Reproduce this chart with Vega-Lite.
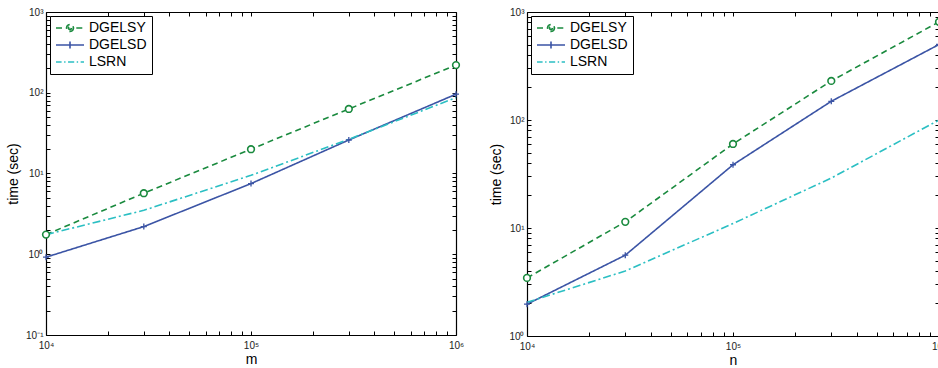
{
  "$schema": "https://vega.github.io/schema/vega-lite/v6.json",
  "padding": {"left": 6, "top": 7, "right": 0, "bottom": 0},
  "background": "white",
  "datasets": {
    "times": [
      {"panel": "m", "series": "DGELSY", "x": 10000, "time": 1.75},
      {"panel": "m", "series": "DGELSY", "x": 30000, "time": 5.7},
      {"panel": "m", "series": "DGELSY", "x": 100000, "time": 20},
      {"panel": "m", "series": "DGELSY", "x": 300000, "time": 63},
      {"panel": "m", "series": "DGELSY", "x": 1000000, "time": 220},
      {"panel": "m", "series": "DGELSD", "x": 10000, "time": 0.92},
      {"panel": "m", "series": "DGELSD", "x": 30000, "time": 2.2},
      {"panel": "m", "series": "DGELSD", "x": 100000, "time": 7.5},
      {"panel": "m", "series": "DGELSD", "x": 300000, "time": 26},
      {"panel": "m", "series": "DGELSD", "x": 1000000, "time": 96},
      {"panel": "m", "series": "LSRN", "x": 10000, "time": 1.75},
      {"panel": "m", "series": "LSRN", "x": 30000, "time": 3.5},
      {"panel": "m", "series": "LSRN", "x": 100000, "time": 9.5},
      {"panel": "m", "series": "LSRN", "x": 300000, "time": 26.5},
      {"panel": "m", "series": "LSRN", "x": 1000000, "time": 87},
      {"panel": "n", "series": "DGELSY", "x": 10000, "time": 3.45},
      {"panel": "n", "series": "DGELSY", "x": 30000, "time": 11.4},
      {"panel": "n", "series": "DGELSY", "x": 100000, "time": 60},
      {"panel": "n", "series": "DGELSY", "x": 300000, "time": 230},
      {"panel": "n", "series": "DGELSY", "x": 1000000, "time": 810},
      {"panel": "n", "series": "DGELSD", "x": 10000, "time": 1.97},
      {"panel": "n", "series": "DGELSD", "x": 30000, "time": 5.6},
      {"panel": "n", "series": "DGELSD", "x": 100000, "time": 38.5},
      {"panel": "n", "series": "DGELSD", "x": 300000, "time": 149},
      {"panel": "n", "series": "DGELSD", "x": 1000000, "time": 500},
      {"panel": "n", "series": "LSRN", "x": 10000, "time": 2.05},
      {"panel": "n", "series": "LSRN", "x": 30000, "time": 4.0},
      {"panel": "n", "series": "LSRN", "x": 100000, "time": 11},
      {"panel": "n", "series": "LSRN", "x": 300000, "time": 29},
      {"panel": "n", "series": "LSRN", "x": 1000000, "time": 100}
    ]
  },
  "data": {"name": "times"},
  "config": {
    "view": {"stroke": null},
    "font": "Liberation Sans",
    "axis": {
      "grid": false,
      "domainColor": "black",
      "domainWidth": 1.2,
      "tickColor": "black",
      "tickWidth": 1,
      "tickSize": -4,
      "labelFont": "Liberation Sans",
      "labelFontSize": 10,
      "labelColor": "#222222",
      "labelFlush": false,
      "labelOverlap": false,
      "titleFont": "Liberation Sans",
      "titleFontSize": 14,
      "titleFontWeight": "normal",
      "titleColor": "black"
    }
  },
  "spacing": 25,
  "resolve": {"scale": {"x": "independent", "y": "independent", "color": "independent", "shape": "independent", "strokeDash": "independent"}, "legend": {"color": "independent", "shape": "independent"}},
  "hconcat": [
    {
      "width": 410,
      "height": 323,
      "transform": [{"filter": "datum.panel == 'm'"}],
      "resolve": {"axis": {"x": "independent", "y": "independent"}},
      "layer": [
        {
          "mark": {"type": "point", "filled": false, "strokeWidth": 1.5, "opacity": 0},
          "encoding": {
            "x": {"field": "x", "type": "quantitative",
              "scale": {"type": "log", "domain": [10000, 1000000]},
              "axis": {"orient": "top", "labels": false, "title": null,
                "values": [10000,20000,30000,40000,50000,60000,70000,80000,90000,100000,200000,300000,400000,500000,600000,700000,800000,900000,1000000]}},
            "y": {"field": "time", "type": "quantitative",
              "scale": {"type": "log", "domain": [0.1, 1000]},
              "axis": {"orient": "right", "labels": false, "title": null,
                "values": [0.1,0.2,0.3,0.4,0.5,0.6,0.7,0.8,0.9,1,2,3,4,5,6,7,8,9,10,20,30,40,50,60,70,80,90,100,200,300,400,500,600,700,800,900,1000]}},
            "color": {"field": "series", "type": "nominal",
              "scale": {"domain": ["DGELSY", "DGELSD", "LSRN"], "range": ["#1a8a3e", "#3b54a5", "#2bbfc3"]},
              "legend": {"title": null, "orient": "top-left", "offset": 4, "padding": 5, "strokeColor": "black", "fillColor": "white", "labelFont": "Liberation Sans", "labelFontSize": 14, "labelColor": "black", "symbolSize": 784, "clipHeight": 14, "rowPadding": 3, "labelOffset": 4, "symbolStrokeWidth": 1.6, "symbolOpacity": 1}},
            "shape": {"field": "series", "type": "nominal",
              "scale": {"domain": ["DGELSY", "DGELSD", "LSRN"], "range": [
                "M-1,0H-0.45M0.45,0H1M0.25,0L0.2165,0.125L0.125,0.2165L0,0.25L-0.125,0.2165L-0.2165,0.125L-0.25,0L-0.2165,-0.125L-0.125,-0.2165L0,-0.25L0.125,-0.2165L0.2165,-0.125ZM0.11,0L0.078,0.078L0,0.11L-0.078,0.078L-0.11,0L-0.078,-0.078L0,-0.11L0.078,-0.078Z",
                "M-1,0H1M0,-0.25V0.25",
                "M-1,0H-0.6M-0.42,0H-0.32M-0.14,0H0.3M0.48,0H0.58M0.76,0H1"]},
              "legend": {"title": null, "orient": "top-left", "offset": 4, "padding": 5, "strokeColor": "black", "fillColor": "white", "labelFont": "Liberation Sans", "labelFontSize": 14, "labelColor": "black", "symbolSize": 784, "clipHeight": 14, "rowPadding": 3, "labelOffset": 4, "symbolStrokeWidth": 1.6, "symbolOpacity": 1}}
          }
        },
        {
          "mark": {"type": "line", "strokeWidth": 1.6},
          "encoding": {
            "x": {"field": "x", "type": "quantitative", "title": "m",
              "scale": {"type": "log", "domain": [10000, 1000000]},
              "axis": {"orient": "bottom", "titlePadding": 2, "labelPadding": 9,
                "values": [10000,20000,30000,40000,50000,60000,70000,80000,90000,100000,200000,300000,400000,500000,600000,700000,800000,900000,1000000],
                "labelExpr": "datum.value == 10000 ? '10⁴' : datum.value == 100000 ? '10⁵' : datum.value == 1000000 ? '10⁶' : ''"}},
            "y": {"field": "time", "type": "quantitative", "title": "time (sec)",
              "scale": {"type": "log", "domain": [0.1, 1000]},
              "axis": {"orient": "left", "titlePadding": 5, "labelPadding": 7,
                "values": [0.1,0.2,0.3,0.4,0.5,0.6,0.7,0.8,0.9,1,2,3,4,5,6,7,8,9,10,20,30,40,50,60,70,80,90,100,200,300,400,500,600,700,800,900,1000],
                "labelExpr": "datum.value == 0.1 ? '10⁻¹' : datum.value == 1 ? '10⁰' : datum.value == 10 ? '10¹' : datum.value == 100 ? '10²' : datum.value == 1000 ? '10³' : ''"}},
            "color": {"field": "series", "type": "nominal", "legend": null,
              "scale": {"domain": ["DGELSY", "DGELSD", "LSRN"], "range": ["#1a8a3e", "#3b54a5", "#2bbfc3"]}},
            "strokeDash": {"field": "series", "type": "nominal", "legend": null,
              "scale": {"domain": ["DGELSY", "DGELSD", "LSRN"], "range": [[6, 4], [1, 0], [8, 3, 2, 3]]}}
          }
        },
        {
          "transform": [{"filter": "datum.series == 'DGELSY'"}],
          "mark": {"type": "point", "shape": "circle", "size": 45, "stroke": "#1a8a3e", "fill": "white", "filled": true, "strokeWidth": 1.6, "opacity": 1},
          "encoding": {
            "x": {"field": "x", "type": "quantitative", "axis": null},
            "y": {"field": "time", "type": "quantitative", "axis": null}
          }
        },
        {
          "transform": [{"filter": "datum.series == 'DGELSD'"}],
          "mark": {"type": "point", "shape": "M-1,0H1M0,-1V1", "size": 36, "stroke": "#3b54a5", "filled": false, "strokeWidth": 1.3, "opacity": 1},
          "encoding": {
            "x": {"field": "x", "type": "quantitative", "axis": null},
            "y": {"field": "time", "type": "quantitative", "axis": null}
          }
        }
      ]
    },
    {
      "width": 412,
      "height": 324,
      "transform": [{"filter": "datum.panel == 'n'"}],
      "resolve": {"axis": {"x": "independent", "y": "independent"}},
      "layer": [
        {
          "mark": {"type": "point", "filled": false, "strokeWidth": 1.5, "opacity": 0},
          "encoding": {
            "x": {"field": "x", "type": "quantitative",
              "scale": {"type": "log", "domain": [10000, 1000000]},
              "axis": {"orient": "top", "labels": false, "title": null,
                "values": [10000,20000,30000,40000,50000,60000,70000,80000,90000,100000,200000,300000,400000,500000,600000,700000,800000,900000,1000000]}},
            "y": {"field": "time", "type": "quantitative",
              "scale": {"type": "log", "domain": [1, 1000]},
              "axis": {"orient": "right", "labels": false, "title": null,
                "values": [1,2,3,4,5,6,7,8,9,10,20,30,40,50,60,70,80,90,100,200,300,400,500,600,700,800,900,1000]}},
            "color": {"field": "series", "type": "nominal",
              "scale": {"domain": ["DGELSY", "DGELSD", "LSRN"], "range": ["#1a8a3e", "#3b54a5", "#2bbfc3"]},
              "legend": {"title": null, "orient": "top-left", "offset": 4, "padding": 5, "strokeColor": "black", "fillColor": "white", "labelFont": "Liberation Sans", "labelFontSize": 14, "labelColor": "black", "symbolSize": 784, "clipHeight": 14, "rowPadding": 3, "labelOffset": 4, "symbolStrokeWidth": 1.6, "symbolOpacity": 1}},
            "shape": {"field": "series", "type": "nominal",
              "scale": {"domain": ["DGELSY", "DGELSD", "LSRN"], "range": [
                "M-1,0H-0.45M0.45,0H1M0.25,0L0.2165,0.125L0.125,0.2165L0,0.25L-0.125,0.2165L-0.2165,0.125L-0.25,0L-0.2165,-0.125L-0.125,-0.2165L0,-0.25L0.125,-0.2165L0.2165,-0.125ZM0.11,0L0.078,0.078L0,0.11L-0.078,0.078L-0.11,0L-0.078,-0.078L0,-0.11L0.078,-0.078Z",
                "M-1,0H1M0,-0.25V0.25",
                "M-1,0H-0.6M-0.42,0H-0.32M-0.14,0H0.3M0.48,0H0.58M0.76,0H1"]},
              "legend": {"title": null, "orient": "top-left", "offset": 4, "padding": 5, "strokeColor": "black", "fillColor": "white", "labelFont": "Liberation Sans", "labelFontSize": 14, "labelColor": "black", "symbolSize": 784, "clipHeight": 14, "rowPadding": 3, "labelOffset": 4, "symbolStrokeWidth": 1.6, "symbolOpacity": 1}}
          }
        },
        {
          "mark": {"type": "line", "strokeWidth": 1.6},
          "encoding": {
            "x": {"field": "x", "type": "quantitative", "title": "n",
              "scale": {"type": "log", "domain": [10000, 1000000]},
              "axis": {"orient": "bottom", "titlePadding": 2, "labelPadding": 9,
                "values": [10000,20000,30000,40000,50000,60000,70000,80000,90000,100000,200000,300000,400000,500000,600000,700000,800000,900000,1000000],
                "labelExpr": "datum.value == 10000 ? '10⁴' : datum.value == 100000 ? '10⁵' : datum.value == 1000000 ? '10⁶' : ''"}},
            "y": {"field": "time", "type": "quantitative", "title": "time (sec)",
              "scale": {"type": "log", "domain": [1, 1000]},
              "axis": {"orient": "left", "titlePadding": 5, "labelPadding": 7,
                "values": [1,2,3,4,5,6,7,8,9,10,20,30,40,50,60,70,80,90,100,200,300,400,500,600,700,800,900,1000],
                "labelExpr": "datum.value == 1 ? '10⁰' : datum.value == 10 ? '10¹' : datum.value == 100 ? '10²' : datum.value == 1000 ? '10³' : ''"}},
            "color": {"field": "series", "type": "nominal", "legend": null,
              "scale": {"domain": ["DGELSY", "DGELSD", "LSRN"], "range": ["#1a8a3e", "#3b54a5", "#2bbfc3"]}},
            "strokeDash": {"field": "series", "type": "nominal", "legend": null,
              "scale": {"domain": ["DGELSY", "DGELSD", "LSRN"], "range": [[6, 4], [1, 0], [8, 3, 2, 3]]}}
          }
        },
        {
          "transform": [{"filter": "datum.series == 'DGELSY'"}],
          "mark": {"type": "point", "shape": "circle", "size": 45, "stroke": "#1a8a3e", "fill": "white", "filled": true, "strokeWidth": 1.6, "opacity": 1},
          "encoding": {
            "x": {"field": "x", "type": "quantitative", "axis": null},
            "y": {"field": "time", "type": "quantitative", "axis": null}
          }
        },
        {
          "transform": [{"filter": "datum.series == 'DGELSD'"}],
          "mark": {"type": "point", "shape": "M-1,0H1M0,-1V1", "size": 36, "stroke": "#3b54a5", "filled": false, "strokeWidth": 1.3, "opacity": 1},
          "encoding": {
            "x": {"field": "x", "type": "quantitative", "axis": null},
            "y": {"field": "time", "type": "quantitative", "axis": null}
          }
        }
      ]
    }
  ]
}
